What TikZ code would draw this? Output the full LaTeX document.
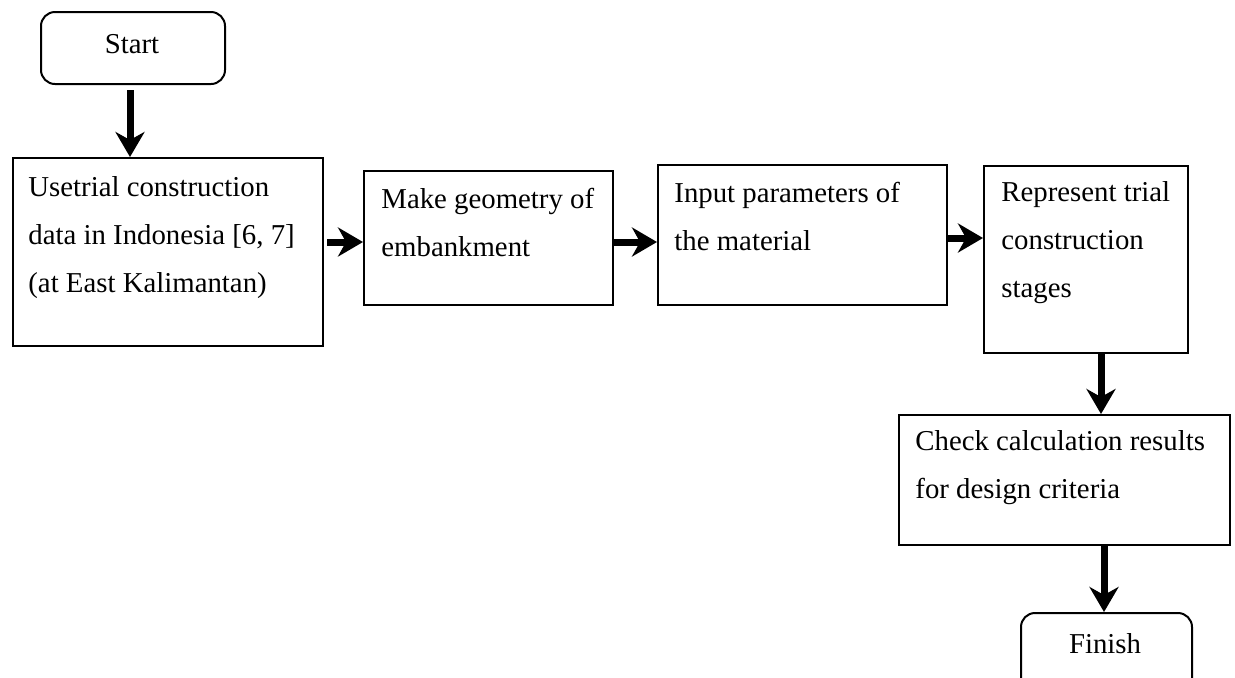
\documentclass[tikz,border=0pt]{standalone}
\usepackage{fontspec}
\setmainfont{Liberation Serif}
\usetikzlibrary{arrows.meta}
\begin{document}
\begin{tikzpicture}[x=0.5pt,y=-0.5pt,
  stepbox/.style={draw,line width=1pt,inner sep=0pt,anchor=north west},
  endbox/.style={draw,line width=1pt,rounded corners=7pt,inner sep=0pt,anchor=north west},
  label/.style={anchor=base west,inner sep=0pt,align=left,
    font=\fontsize{14.4}{24}\selectfont},
  flow/.style={line width=3.5pt,-{Stealth[length=12.5pt,width=14.5pt,inset=4pt]}}]
\useasboundingbox (0,0) rectangle (1235,677);
\clip (0,0) rectangle (1235,677);

% terminals
\node[endbox,minimum width=92pt,minimum height=36pt] (start) at (40,11) {};
\node[anchor=base,inner sep=0pt,font=\fontsize{14.4}{24}\selectfont] (starttxt) at (132,53) {Start};
\node[endbox,minimum width=85.5pt,minimum height=50pt] (finish) at (1020,612) {};
\node[anchor=base,inner sep=0pt,font=\fontsize{14.4}{24}\selectfont] (finishtxt) at (1105,653) {Finish};

% process boxes
\node[stepbox,minimum width=155pt,minimum height=94pt] (b1) at (12,157) {};
\node[stepbox,minimum width=124.5pt,minimum height=67pt] (b2) at (363,170) {};
\node[stepbox,minimum width=144.5pt,minimum height=70pt] (b3) at (657,164) {};
\node[stepbox,minimum width=102pt,minimum height=93.5pt] (b4) at (983,165) {};
\node[stepbox,minimum width=165.5pt,minimum height=65pt] (b5) at (898,414) {};

% box texts, placed by the baseline of their last line
\node[label] (t1) at (28,292) {Usetrial construction\\data in Indonesia [6, 7]\\(at East Kalimantan)};
\node[label] (t2) at (381,256) {Make geometry of\\embankment};
\node[label] (t3) at (674,250) {Input parameters of\\the material};
\node[label] (t4) at (1001,297) {Represent trial\\construction\\stages};
\node[label] (t5) at (915,498) {Check calculation results\\for design criteria};

% connectors
\coordinate (ya) at (0,242);
\coordinate (yb) at (0,238);
\coordinate (xa) at (130,0);
\coordinate (xb) at (1101,0);
\coordinate (xc) at (1104,0);
\draw[flow] ([yshift=-2.5pt]start.south -| xa) -- (b1.north -| xa);
\draw[flow] ([xshift=1.5pt]b1.east |- ya) -- (b2.west |- ya);
\draw[flow] (b2.east |- ya) -- (b3.west |- ya);
\draw[flow] (b3.east |- yb) -- (b4.west |- yb);
\draw[flow] (b4.south -| xb) -- (b5.north -| xb);
\draw[flow] (b5.south -| xc) -- (finish.north -| xc);
\end{tikzpicture}
\end{document}
